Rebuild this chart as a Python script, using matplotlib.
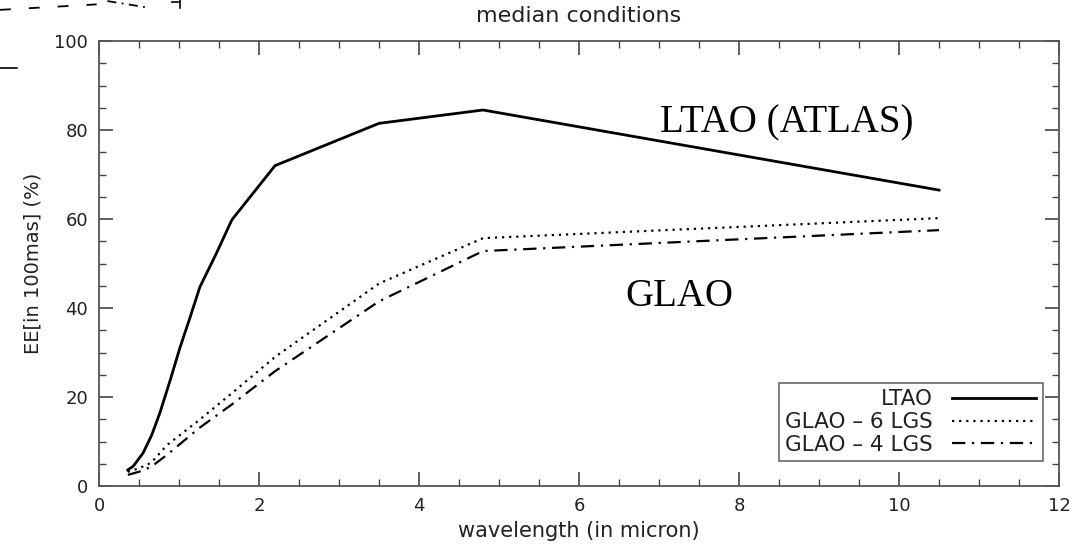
import matplotlib
matplotlib.use('Agg')
import matplotlib.pyplot as plt
from matplotlib.lines import Line2D
from matplotlib.ticker import MultipleLocator

# wavelength (micron) and encircled energy (%)
wl_ltao = [0.36, 0.43, 0.55, 0.66, 0.76, 0.89, 1.01, 1.14, 1.26, 1.47, 1.66, 2.2, 3.5, 4.8, 10.5]
ee_ltao = [3.6, 4.5, 7.4, 11.5, 16.4, 23.8, 31.0, 38.0, 44.7, 52.4, 59.8, 72.0, 81.5, 84.5, 66.5]

wl_glao = [0.36, 0.5, 0.65, 0.85, 1.25, 1.65, 2.2, 3.5, 4.8, 10.5]
ee_glao6 = [3.2, 4.0, 5.2, 9.2, 14.8, 20.7, 29.0, 45.5, 55.7, 60.2]
ee_glao4 = [2.5, 3.2, 4.3, 7.0, 13.0, 18.2, 25.8, 41.5, 52.8, 57.5]

legend_labels = ['LTAO', 'GLAO \u2013 6 LGS', 'GLAO \u2013 4 LGS']

dotted = (0, (1, 2.2))
dashdot = (0, (6, 3, 1, 3))

fig = plt.figure(figsize=(10.74, 5.47), dpi=100)
ax = fig.add_axes([0.0922, 0.1115, 0.8939, 0.8135])

ax.plot(wl_ltao, ee_ltao, color='black', lw=2.0, ls='-')
ax.plot(wl_glao, ee_glao6, color='black', lw=1.6, ls=dotted)
ax.plot(wl_glao, ee_glao4, color='black', lw=1.6, ls=dashdot)

ax.set_xlim(0, 12)
ax.set_ylim(0, 100)
ax.xaxis.set_major_locator(MultipleLocator(2))
ax.xaxis.set_minor_locator(MultipleLocator(0.5))
ax.yaxis.set_major_locator(MultipleLocator(20))
ax.yaxis.set_minor_locator(MultipleLocator(5))
ax.tick_params(which='both', direction='in', top=True, right=True, color='#444444',
               labelsize=13, labelcolor='#222222', pad=8)
ax.tick_params(which='major', length=10, width=1.2)
ax.tick_params(which='minor', length=5, width=1.0)
for s in ax.spines.values():
    s.set_color('#555555')
    s.set_linewidth(1.3)

ax.set_title('median conditions', fontsize=16, color='#222222', pad=14)
ax.set_xlabel('wavelength (in micron)', fontsize=15, color='#222222', labelpad=4)
ax.set_ylabel('EE[in 100mas] (%)', fontsize=14, color='#222222', labelpad=8)

ax.text(8.59, 81.7, 'LTAO (ATLAS)', fontsize=28, family='Liberation Serif',
        ha='center', va='center')
ax.text(7.26, 42.5, 'GLAO', fontsize=28, family='Liberation Serif',
        ha='center', va='center')

handles = [Line2D([], [], color='black', lw=2.0),
           Line2D([], [], color='black', lw=1.6, ls=dotted),
           Line2D([], [], color='black', lw=1.6, ls=dashdot)]
leg = ax.legend(handles, legend_labels, loc='lower right', bbox_to_anchor=(0.983, 0.056),
                markerfirst=False, fontsize=15.5, frameon=True, fancybox=False,
                handlelength=3.9, borderpad=0.3, labelspacing=0.12, handletextpad=0.9,
                borderaxespad=0.0)
leg.get_frame().set_edgecolor('#444444')
leg.get_frame().set_linewidth(1.2)
for t in leg.get_texts():
    t.set_color('#222222')

# fragments of a neighbouring figure cut off at the top-left corner
fig.add_artist(Line2D([0.0, 0.09], [0.982, 0.992], color='black', lw=1.3,
                      ls=(0, (6, 10)), transform=fig.transFigure))
fig.add_artist(Line2D([0.1, 0.135], [0.998, 0.987], color='black', lw=1.3,
                      ls=(0, (5, 3, 1, 3)), transform=fig.transFigure))
fig.add_artist(Line2D([0.0, 0.016], [0.876, 0.876], color='black', lw=1.2,
                      transform=fig.transFigure))
fig.add_artist(Line2D([0.168, 0.168], [0.985, 1.0], color='black', lw=1.2,
                      transform=fig.transFigure))
fig.add_artist(Line2D([0.16, 0.168], [0.996, 0.996], color='black', lw=1.2,
                      transform=fig.transFigure))

fig.savefig('out.png', dpi=100)
